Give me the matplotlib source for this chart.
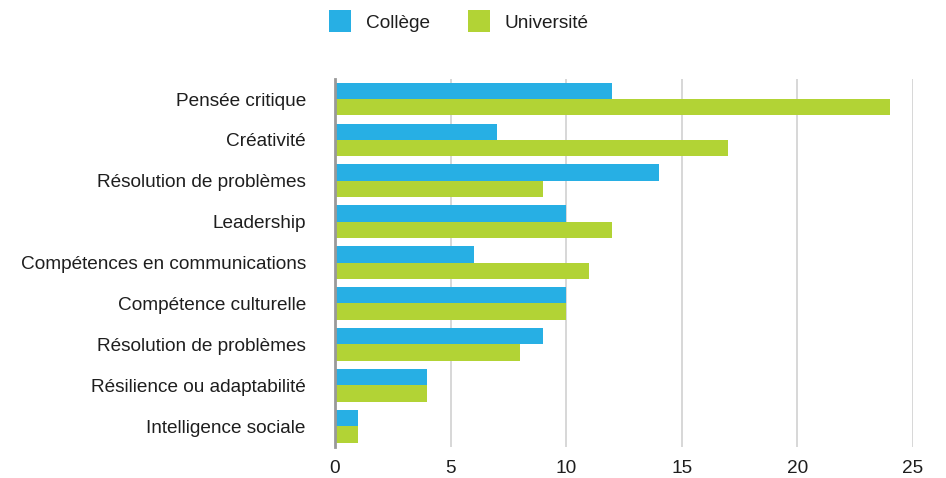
import matplotlib
matplotlib.use("Agg")
import matplotlib.pyplot as plt
from matplotlib.patches import Patch
import numpy as np

categories = ["Pensée critique", "Créativité", "Résolution de problèmes", "Leadership",
              "Compétences en communications", "Compétence culturelle",
              "Résolution de problèmes", "Résilience ou adaptabilité", "Intelligence sociale"]
college = [12, 7, 14, 10, 6, 10, 9, 4, 1]
universite = [24, 17, 9, 12, 11, 10, 8, 4, 1]
xticks = [0, 5, 10, 15, 20, 25]

plt.rcParams['font.family'] = ['Liberation Sans', 'DejaVu Sans']
blue = "#27AFE4"
green = "#B2D335"
fs = 13.7

fig = plt.figure(figsize=(9.46, 4.78), dpi=100)
ax = fig.add_axes([335/946, 1 - 446.6/478, (913-335)/946, (446.6-78.6)/478])

y = np.arange(len(categories))
h = 0.4
ax.barh(y - h/2, college, height=h, color=blue, zorder=3)
ax.barh(y + h/2, universite, height=h, color=green, zorder=3)

ax.set_ylim(len(categories) - 0.5, -0.5)
ax.set_xlim(0, 25)
ax.set_yticks(y)
ax.set_yticklabels(categories, fontsize=fs, color="#1e1e1e")
ax.set_xticks(xticks)
ax.set_xticklabels([str(t) for t in xticks], fontsize=fs, color="#1e1e1e")
ax.tick_params(axis='y', length=0, pad=21)
ax.tick_params(axis='x', length=0, pad=10)

for s in ["top", "right", "bottom"]:
    ax.spines[s].set_visible(False)
ax.spines["left"].set_color("#999999")
ax.spines["left"].set_linewidth(2)
ax.spines["left"].set_zorder(4)
ax.xaxis.grid(True, color="#d4d4d4", linewidth=1.3, zorder=0)
ax.set_axisbelow(True)

handles = [Patch(facecolor=blue, edgecolor='none', label="Collège"),
           Patch(facecolor=green, edgecolor='none', label="Université")]
fig.legend(handles=handles, loc="upper center", bbox_to_anchor=(0.485, 1.014), ncol=2,
           frameon=False, fontsize=fs, handlelength=1.15, handleheight=1.4,
           columnspacing=2.0, handletextpad=0.8, labelcolor="#1e1e1e")

fig.savefig("out.png", dpi=100)
